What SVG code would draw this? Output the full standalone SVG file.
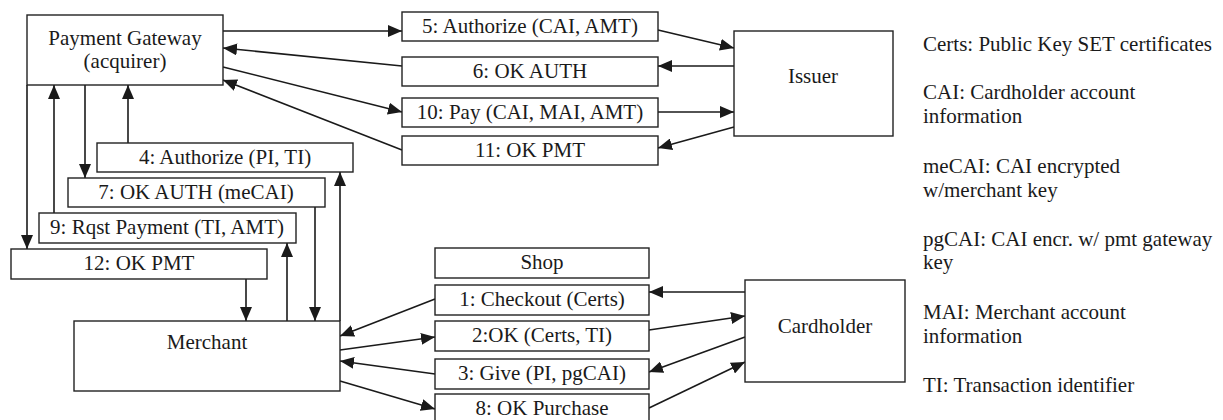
<svg xmlns="http://www.w3.org/2000/svg" width="1223" height="420" viewBox="0 0 1223 420">
<style>
rect{fill:#fff;stroke:#222;stroke-width:1.4}
text{font-family:'Liberation Serif','DejaVu Serif',serif;font-size:21px;fill:#1a1a1a}
.c{text-anchor:middle}
#connectors line{stroke:#1a1a1a;stroke-width:1.6;marker-end:url(#ah)}
</style>
<defs>
<marker id="ah" markerUnits="userSpaceOnUse" markerWidth="14" markerHeight="12" refX="14" refY="6" orient="auto">
<path d="M0,0 L14,6 L0,12 z" fill="#1a1a1a"/>
</marker>
</defs>
<g id="connectors">
<line x1="223" y1="31" x2="402" y2="31"/>
<line x1="402" y1="66" x2="223" y2="48"/>
<line x1="223" y1="67" x2="402" y2="112"/>
<line x1="402" y1="150" x2="223" y2="80"/>
<line x1="658" y1="30" x2="734" y2="48"/>
<line x1="734" y1="66" x2="658" y2="66"/>
<line x1="658" y1="112" x2="734" y2="112"/>
<line x1="734" y1="127" x2="658" y2="148"/>
<line x1="128" y1="143" x2="128" y2="85"/>
<line x1="85" y1="85" x2="85" y2="178"/>
<line x1="54" y1="213" x2="54" y2="85"/>
<line x1="27" y1="85" x2="27" y2="249"/>
<line x1="340" y1="321" x2="340" y2="172"/>
<line x1="315" y1="207" x2="315" y2="321"/>
<line x1="287" y1="321" x2="287" y2="243"/>
<line x1="246" y1="279" x2="246" y2="321"/>
<line x1="435" y1="299" x2="340" y2="336"/>
<line x1="340" y1="350" x2="435" y2="337"/>
<line x1="435" y1="374" x2="340" y2="361"/>
<line x1="340" y1="381" x2="435" y2="409"/>
<line x1="745" y1="292" x2="649" y2="292"/>
<line x1="649" y1="330" x2="745" y2="316"/>
<line x1="745" y1="337" x2="649" y2="372"/>
<line x1="649" y1="408" x2="745" y2="362"/>
</g>
<g id="pg"><rect x="27" y="15" width="196" height="70"/><text class="c" x="125" y="45">Payment Gateway</text><text class="c" x="125" y="68">(acquirer)</text></g>
<g id="issuer"><rect x="734" y="31" width="159" height="105"/><text class="c" x="813" y="83">Issuer</text></g>
<g id="cardholder"><rect x="745" y="280" width="160" height="102"/><text class="c" x="825" y="333">Cardholder</text></g>
<g id="merchant"><rect x="74" y="321" width="266" height="70"/><text class="c" x="207" y="349">Merchant</text></g>
<g id="m5"><rect x="402" y="12" width="256" height="29"/><text class="c" x="530" y="33">5: Authorize (CAI, AMT)</text></g>
<g id="m6"><rect x="402" y="57" width="256" height="29"/><text class="c" x="530" y="78">6: OK AUTH</text></g>
<g id="m10"><rect x="402" y="98" width="256" height="29"/><text class="c" x="530" y="119">10: Pay (CAI, MAI, AMT)</text></g>
<g id="m11"><rect x="402" y="136" width="256" height="29"/><text class="c" x="530" y="157">11: OK PMT</text></g>
<g id="m4"><rect x="97" y="143" width="256" height="29"/><text class="c" x="225" y="164">4: Authorize (PI, TI)</text></g>
<g id="m7"><rect x="68" y="178" width="257" height="29"/><text class="c" x="196" y="199">7: OK AUTH (meCAI)</text></g>
<g id="m9"><rect x="39" y="213" width="257" height="30"/><text class="c" x="167" y="234">9: Rqst Payment (TI, AMT)</text></g>
<g id="m12"><rect x="11" y="249" width="256" height="30"/><text class="c" x="139" y="270">12: OK PMT</text></g>
<g id="shop"><rect x="435" y="248" width="214" height="30"/><text class="c" x="542" y="269">Shop</text></g>
<g id="m1"><rect x="435" y="285" width="214" height="30"/><text class="c" x="542" y="306">1: Checkout (Certs)</text></g>
<g id="m2"><rect x="435" y="321" width="214" height="30"/><text class="c" x="542" y="342">2:OK (Certs, TI)</text></g>
<g id="m3"><rect x="435" y="359" width="214" height="30"/><text class="c" x="542" y="380">3: Give (PI, pgCAI)</text></g>
<g id="m8"><rect x="435" y="394" width="214" height="30"/><text class="c" x="542" y="415">8: OK Purchase</text></g>
<g id="legend">
<text x="923" y="51">Certs: Public Key SET certificates</text>
<text x="923" y="99">CAI: Cardholder account</text>
<text x="923" y="123">information</text>
<text x="923" y="173">meCAI: CAI encrypted</text>
<text x="923" y="197">w/merchant key</text>
<text x="923" y="246">pgCAI: CAI encr. w/ pmt gateway</text>
<text x="923" y="269">key</text>
<text x="923" y="319">MAI: Merchant account</text>
<text x="923" y="343">information</text>
<text x="923" y="392">TI: Transaction identifier</text>
</g>
</svg>
